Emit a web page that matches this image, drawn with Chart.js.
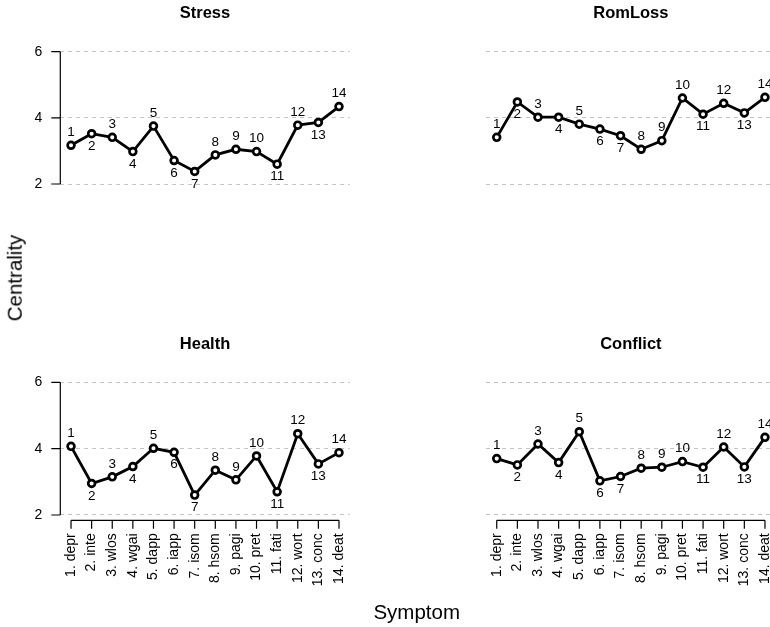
<!DOCTYPE html>
<html>
<head>
<meta charset="utf-8">
<title>Centrality by symptom</title>
<script src="https://cdn.jsdelivr.net/npm/chart.js@4.4.1/dist/chart.umd.min.js"></script>
<style>
  html, body { margin: 0; padding: 0; background: #fff; }
  body { width: 770px; height: 627px; overflow: hidden; position: relative;
         font-family: "Liberation Sans", Arial, Helvetica, sans-serif; }
  canvas.panel { position: absolute; left: 0; top: 0; }
  .axis-title { position: absolute; font-size: 20.5px; line-height: 1; color: #000; white-space: nowrap; }
  #xTitle { left: 416.7px; top: 602px; transform: translateX(-50%); }
  #yTitle { left: 14.6px; top: 277.5px; transform: translate(-50%, -50%) rotate(-90deg); }
</style>
</head>
<body>
<canvas class="panel" id="pStress" width="800" height="627"></canvas>
<canvas class="panel" id="pRomLoss" width="800" height="627"></canvas>
<canvas class="panel" id="pHealth" width="800" height="627"></canvas>
<canvas class="panel" id="pConflict" width="800" height="627"></canvas>
<div class="axis-title" id="yTitle">Centrality</div>
<div class="axis-title" id="xTitle">Symptom</div>

<script>
// Symptom labels shown on the x axis
const symptoms = ['1. depr', '2. inte', '3. wlos', '4. wgai', '5. dapp', '6. iapp', '7. isom',
                  '8. hsom', '9. pagi', '10. pret', '11. fati', '12. wort', '13. conc', '14. deat'];

// Centrality of each symptom, one series per stressor group
const stress   = [3.17, 3.52, 3.41, 2.98, 3.75, 2.71, 2.38, 2.88, 3.05, 2.98, 2.60, 3.78, 3.86, 4.34];
const romLoss  = [3.41, 4.48, 4.02, 4.02, 3.81, 3.66, 3.46, 3.05, 3.31, 4.60, 4.11, 4.44, 4.15, 4.62];
const health   = [4.07, 2.95, 3.15, 3.46, 4.01, 3.89, 2.60, 3.35, 3.06, 3.78, 2.70, 4.45, 3.54, 3.88];
const conflict = [3.70, 3.51, 4.14, 3.58, 4.51, 3.03, 3.16, 3.41, 3.44, 3.61, 3.44, 4.05, 3.45, 4.34];

// Y axis tick values
const yTicks = [2, 4, 6];

// Symptom numbers whose point label sits under the point
const labelsBelow = new Set([2, 4, 6, 7, 11, 13]);

const FONT = '"Liberation Sans", Arial, Helvetica, sans-serif';
const CANVAS_W = 800, CANVAS_H = 627;
const Y_AXIS_BOX = 50;   // room kept left of the plot for y tick labels
const X_AXIS_BOX = 80;   // room kept under the plot for rotated x tick labels

// Plot-region edges (px) for each column and row
const columns = [{ left: 60.3, right: 349.7 }, { left: 486.0, right: 775.7 }];
const rows    = [{ top: 46.4, bottom: 189.3 }, { top: 377.0, bottom: 520.3 }];

// Titles, R-style axis lines with outward ticks, and numbered point labels
const panelDecor = {
  id: 'panelDecor',
  afterDatasetsDraw(chart, args, opts) {
    const { ctx, chartArea: ca } = chart;
    const xs = chart.scales.x, ys = chart.scales.y;
    ctx.save();

    // panel title
    ctx.fillStyle = '#000';
    ctx.font = 'bold 16.5px ' + FONT;
    ctx.textAlign = 'center';
    ctx.textBaseline = 'alphabetic';
    ctx.fillText(opts.title, (ca.left + ca.right) / 2, ca.top - 28);

    ctx.strokeStyle = '#000';
    ctx.lineWidth = 1.2;
    ctx.setLineDash([]);

    if (opts.showY) {
      const x = ca.left;
      const yLo = ys.getPixelForValue(yTicks[0]);
      const yHi = ys.getPixelForValue(yTicks[yTicks.length - 1]);
      ctx.beginPath();
      ctx.moveTo(x, yLo); ctx.lineTo(x, yHi);
      yTicks.forEach(v => {
        const y = ys.getPixelForValue(v);
        ctx.moveTo(x, y); ctx.lineTo(x - 9, y);
      });
      ctx.stroke();
    }

    if (opts.showX) {
      const y = ca.bottom;
      ctx.beginPath();
      ctx.moveTo(xs.getPixelForValue(1), y);
      ctx.lineTo(xs.getPixelForValue(symptoms.length), y);
      symptoms.forEach((_, i) => {
        const x = xs.getPixelForValue(i + 1);
        ctx.moveTo(x, y); ctx.lineTo(x, y + 8.5);
      });
      ctx.stroke();
    }

    // numbered labels next to each point
    ctx.font = '13.5px ' + FONT;
    ctx.textAlign = 'center';
    ctx.textBaseline = 'middle';
    const meta = chart.getDatasetMeta(0);
    meta.data.forEach((pt, i) => {
      const n = i + 1;
      const dy = labelsBelow.has(n) ? 12.4 : -13.0;
      ctx.fillText(String(n), pt.x, pt.y + dy);
    });

    ctx.restore();
  }
};

function buildPanel(id, title, values, col, row, showY, showX) {
  const c = columns[col], r = rows[row];
  const xBox = showX ? X_AXIS_BOX : 0;
  return new Chart(document.getElementById(id), {
    type: 'line',
    data: {
      datasets: [{
        data: values.map((v, i) => ({ x: i + 1, y: v })),
        borderColor: '#000',
        borderWidth: 2.8,
        tension: 0,
        fill: false,
        pointRadius: 3.4,
        pointBorderWidth: 2.7,
        pointBackgroundColor: '#fff',
        pointBorderColor: '#000'
      }]
    },
    options: {
      responsive: false,
      animation: false,
      events: [],
      layout: {
        padding: {
          left: c.left - Y_AXIS_BOX,
          right: CANVAS_W - c.right,
          top: r.top,
          bottom: CANVAS_H - r.bottom - xBox
        }
      },
      plugins: {
        legend: { display: false },
        title: { display: false },
        tooltip: { enabled: false },
        panelDecor: { title, showY, showX }
      },
      scales: {
        x: {
          type: 'linear',
          min: 0.48,
          max: symptoms.length + 0.52,
          display: showX,
          afterBuildTicks: s => { s.ticks = symptoms.map((_, i) => ({ value: i + 1 })); },
          afterFit: s => { s.height = xBox; },
          grid: { display: false, drawTicks: false },
          border: { display: false },
          ticks: {
            autoSkip: false,
            minRotation: 90,
            maxRotation: 90,
            padding: 13,
            color: '#000',
            font: { family: FONT, size: 14 },
            callback: (v, i) => symptoms[i]
          }
        },
        y: {
          type: 'linear',
          min: 1.84,
          max: 6.16,
          afterBuildTicks: s => { s.ticks = yTicks.map(v => ({ value: v })); },
          afterFit: s => { s.width = Y_AXIS_BOX; },
          grid: { color: '#c4c4c4', lineWidth: 1, drawTicks: false },
          border: { display: false, dash: [4, 4] },
          ticks: {
            display: showY,
            padding: 18,
            color: '#000',
            font: { family: FONT, size: 14 }
          }
        }
      }
    },
    plugins: [panelDecor]
  });
}

buildPanel('pStress',   'Stress',   stress,   0, 0, true,  false);
buildPanel('pRomLoss',  'RomLoss',  romLoss,  1, 0, false, false);
buildPanel('pHealth',   'Health',   health,   0, 1, true,  true);
buildPanel('pConflict', 'Conflict', conflict, 1, 1, false, true);
</script>
</body>
</html>
